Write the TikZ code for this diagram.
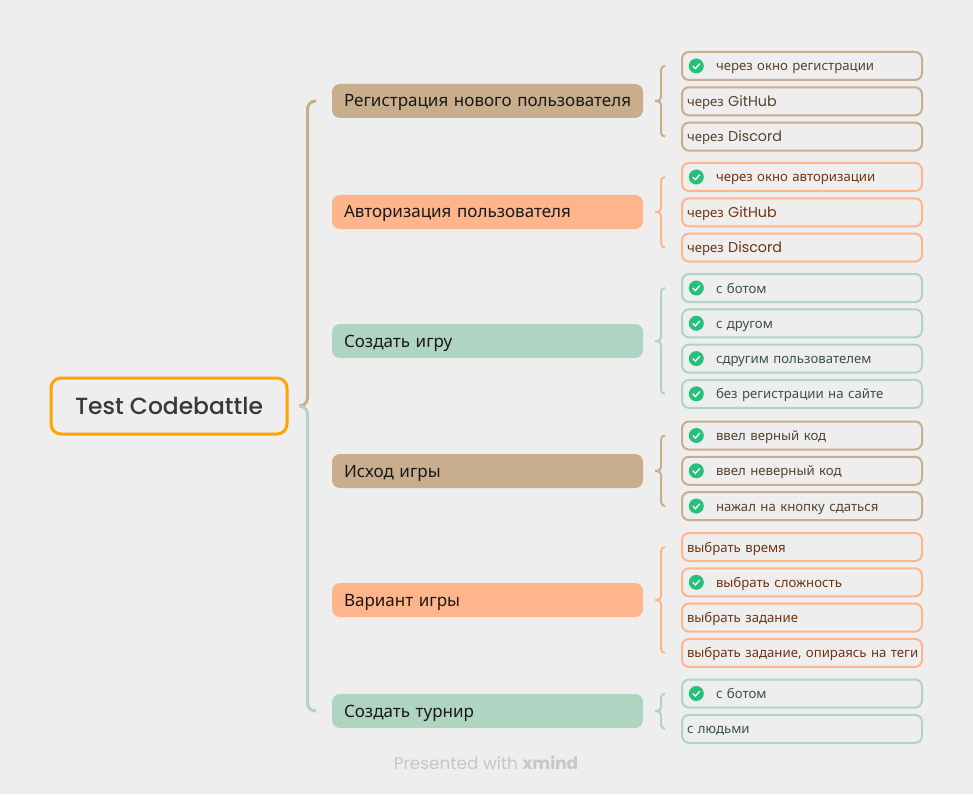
\documentclass[tikz,border=0pt]{standalone}
\usepackage{fontspec}
\setmainfont{Noto Sans}
\newfontfamily\latinfont{Poppins}
\newfontfamily\rootfont{Poppins Medium}
\newcommand{\latinword}[1]{{\fontsize{14.3}{15}\selectfont\latinfont #1}}
\usetikzlibrary{positioning}
\definecolor{pagebg}{HTML}{EEEEEE}
\definecolor{tanline}{HTML}{C9AE8D}
\definecolor{orangeline}{HTML}{FFB58B}
\definecolor{greenline}{HTML}{B0D4C2}
\definecolor{tantext}{HTML}{54432F}
\definecolor{orangetext}{HTML}{6E3514}
\definecolor{greentext}{HTML}{3A5246}
\definecolor{tickgreen}{HTML}{24C07C}
\definecolor{rootline}{HTML}{FFA305}
\begin{document}
\begin{tikzpicture}[x=1pt, y=-1pt,
    root/.style={draw=rootline, line width=3pt, rounded corners=10pt, outer sep=0pt, minimum width=236pt, minimum height=56pt, text=black!78, font=\fontsize{23.4}{26}\selectfont\rootfont},
    topic/.style={rounded corners=8pt, outer sep=0pt, inner xsep=0pt, inner ysep=0pt, minimum height=34pt, text width=311pt, text height=15pt, text depth=3pt, align=left, text=black!90, font=\fontsize{17}{20}\selectfont, execute at begin node=\hspace*{12pt}},
    leaf/.style={line width=2pt, rounded corners=7pt, outer sep=0pt, inner xsep=0pt, inner ysep=0pt, minimum height=28pt, text width=240pt, text height=12pt, text depth=2pt, align=left, font=\fontsize{13.2}{15}\selectfont, execute at begin node=\hspace*{5pt}},
    leaftan/.style={leaf, draw=tanline, text=tantext},
    leaforange/.style={leaf, draw=orangeline, text=orangetext},
    leafgreen/.style={leaf, draw=greenline, text=greentext},
    checked/.style={execute at begin node=\hspace*{29pt}, path picture={
        \fill[tickgreen] ([xshift=14.3pt]path picture bounding box.west) circle (7.5pt);
        \draw[white, line width=1.3pt, sharp corners] ([xshift=10.8pt]path picture bounding box.west) -- ++(2.6,2.6) -- ++(4.4,-5);}},
    mainbrace/.style={line width=3pt, rounded corners=8pt},
    subbrace/.style={line width=2pt, rounded corners=4pt},
    gap/.style={below=7.3pt of #1}]

    \fill[pagebg] (0,0) rectangle (973,794);

    \node[root] (r) at (169,406) {Test Codebattle};

    \node[topic, fill=tanline] (t_1) at (487.5,101) {Регистрация нового пользователя};
    \node[topic, fill=orangeline] (t_2) at (487.5,212) {Авторизация пользователя};
    \node[topic, fill=greenline] (t_3) at (487.5,341) {Создать игру};
    \node[topic, fill=tanline] (t_4) at (487.5,471) {Исход игры};
    \node[topic, fill=orangeline] (t_5) at (487.5,600) {Вариант игры};
    \node[topic, fill=greenline] (t_6) at (487.5,711) {Создать турнир};

    % first group
    \node[leaftan, checked] (l_1_1) at (802,66) {через окно регистрации};
    \node[leaftan, gap=l_1_1] (l_1_2) {через \latinword{GitHub}};
    \node[leaftan, gap=l_1_2] (l_1_3) {через \latinword{Discord}};

    % second group
    \node[leaforange, checked] (l_2_1) at (802,177) {через окно авторизации};
    \node[leaforange, gap=l_2_1] (l_2_2) {через \latinword{GitHub}};
    \node[leaforange, gap=l_2_2] (l_2_3) {через \latinword{Discord}};

    % third group
    \node[leafgreen, checked] (l_3_1) at (802,288) {с ботом};
    \node[leafgreen, checked, gap=l_3_1] (l_3_2) {с другом};
    \node[leafgreen, checked, gap=l_3_2] (l_3_3) {сдругим пользователем};
    \node[leafgreen, checked, gap=l_3_3] (l_3_4) {без регистрации на сайте};

    % fourth group
    \node[leaftan, checked] (l_4_1) at (802,435.5) {ввел верный код};
    \node[leaftan, checked, gap=l_4_1] (l_4_2) {ввел неверный код};
    \node[leaftan, checked, gap=l_4_2] (l_4_3) {нажал на кнопку сдаться};

    % fifth group
    \node[leaforange] (l_5_1) at (802,547) {выбрать время};
    \node[leaforange, checked, gap=l_5_1] (l_5_2) {выбрать сложность};
    \node[leaforange, gap=l_5_2] (l_5_3) {выбрать задание};
    \node[leaforange, gap=l_5_3] (l_5_4) {выбрать задание, опираясь на теги};

    % sixth group
    \node[leafgreen, checked] (l_6_1) at (802,693.5) {с ботом};
    \node[leafgreen, gap=l_6_1] (l_6_2) {с людьми};

    \draw[mainbrace, tanline] ([xshift=13pt]r.east) -| ([xshift=-24.5pt]t_1.west) -- ([xshift=-16pt]t_1.west);
    \draw[mainbrace, greenline] ([xshift=13pt]r.east) -| ([xshift=-24.5pt]t_6.west) -- ([xshift=-16pt]t_6.west);

    \draw[subbrace, tanline] ([xshift=12pt]t_1.east) -| ([xshift=-21pt]l_1_1.west) -- ([xshift=-17pt]l_1_1.west);
    \draw[subbrace, tanline] ([xshift=12pt]t_1.east) -| ([xshift=-21pt]l_1_3.west) -- ([xshift=-17pt]l_1_3.west);
    \draw[subbrace, orangeline] ([xshift=12pt]t_2.east) -| ([xshift=-21pt]l_2_1.west) -- ([xshift=-17pt]l_2_1.west);
    \draw[subbrace, orangeline] ([xshift=12pt]t_2.east) -| ([xshift=-21pt]l_2_3.west) -- ([xshift=-17pt]l_2_3.west);
    \draw[subbrace, greenline] ([xshift=12pt]t_3.east) -| ([xshift=-21pt]l_3_1.west) -- ([xshift=-17pt]l_3_1.west);
    \draw[subbrace, greenline] ([xshift=12pt]t_3.east) -| ([xshift=-21pt]l_3_4.west) -- ([xshift=-17pt]l_3_4.west);
    \draw[subbrace, tanline] ([xshift=12pt]t_4.east) -| ([xshift=-21pt]l_4_1.west) -- ([xshift=-17pt]l_4_1.west);
    \draw[subbrace, tanline] ([xshift=12pt]t_4.east) -| ([xshift=-21pt]l_4_3.west) -- ([xshift=-17pt]l_4_3.west);
    \draw[subbrace, orangeline] ([xshift=12pt]t_5.east) -| ([xshift=-21pt]l_5_1.west) -- ([xshift=-17pt]l_5_1.west);
    \draw[subbrace, orangeline] ([xshift=12pt]t_5.east) -| ([xshift=-21pt]l_5_4.west) -- ([xshift=-17pt]l_5_4.west);
    \draw[subbrace, greenline] ([xshift=12pt]t_6.east) -| ([xshift=-21pt]l_6_1.west) -- ([xshift=-17pt]l_6_1.west);
    \draw[subbrace, greenline] ([xshift=12pt]t_6.east) -| ([xshift=-21pt]l_6_2.west) -- ([xshift=-17pt]l_6_2.west);

    \node[text=black!22, font=\fontsize{16.9}{19}\selectfont\latinfont] (footer) at (486,763) {Presented with \textbf{xmind}};
\end{tikzpicture}
\end{document}
